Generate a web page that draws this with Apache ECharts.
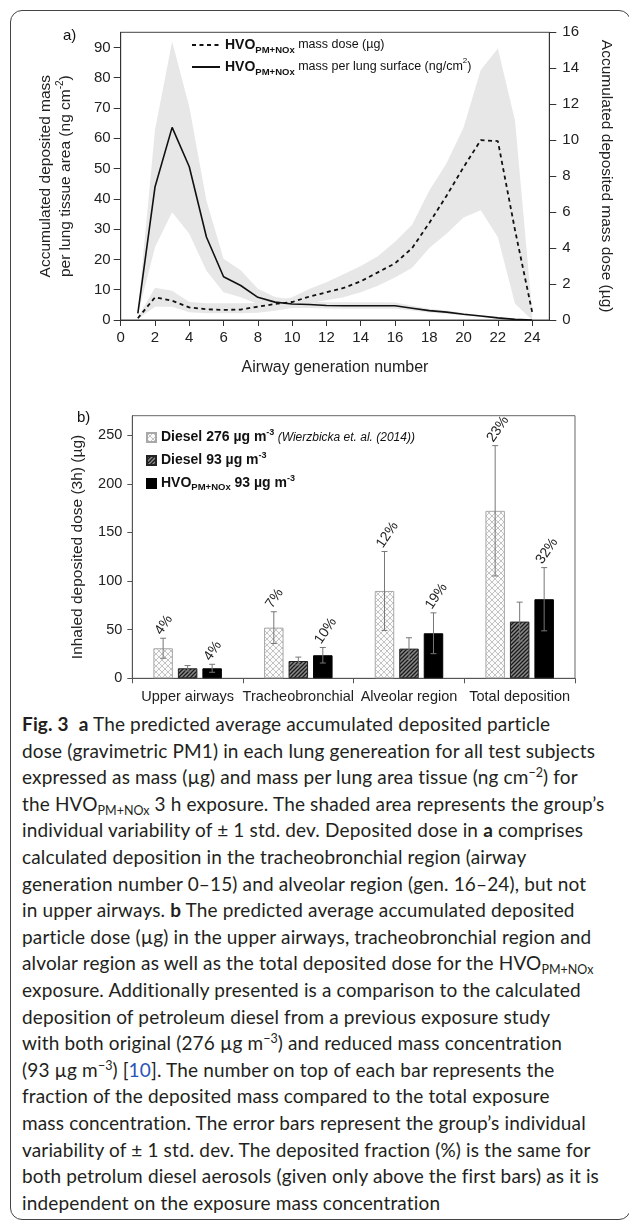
<!DOCTYPE html>
<html><head><meta charset="utf-8">
<script src="https://cdn.jsdelivr.net/npm/echarts@6/dist/echarts.min.js"></script>
<style>
html,body{margin:0;padding:0;background:#fff;width:629px;height:1223px;overflow:hidden;}
#frame{position:absolute;left:10px;top:10px;width:621px;height:1210px;border:1.3px solid #444;border-radius:12px;box-sizing:border-box;}
#chart{position:absolute;left:0;top:0;width:629px;height:708px;}
#caption{position:absolute;left:22px;top:711px;font-family:Lato,'Open Sans',sans-serif;font-size:19px;line-height:26.6px;color:#231f20;white-space:nowrap;letter-spacing:0.15px;}
#caption sub{font-size:12.5px;vertical-align:-4px;line-height:0;letter-spacing:0;}
#caption sup{font-size:12.5px;vertical-align:7px;line-height:0;letter-spacing:0;}
#caption .ref{color:#2a55b8;}
</style></head><body>
<div id="frame"></div>
<div id="chart"></div>
<div id="caption">
<div><b>Fig. 3</b>&nbsp; <b>a</b> The predicted average accumulated deposited particle</div>
<div>dose (gravimetric PM1) in each lung genereation for all test subjects</div>
<div>expressed as mass (µg) and mass per lung area tissue (ng cm<sup>−2</sup>) for</div>
<div>the HVO<sub>PM+NOx</sub> 3 h exposure. The shaded area represents the group’s</div>
<div>individual variability of ± 1 std. dev. Deposited dose in <b>a</b> comprises</div>
<div>calculated deposition in the tracheobronchial region (airway</div>
<div>generation number 0–15) and alveolar region (gen. 16–24), but not</div>
<div>in upper airways. <b>b</b> The predicted average accumulated deposited</div>
<div>particle dose (µg) in the upper airways, tracheobronchial region and</div>
<div>alvolar region as well as the total deposited dose for the HVO<sub>PM+NOx</sub></div>
<div>exposure. Additionally presented is a comparison to the calculated</div>
<div>deposition of petroleum diesel from a previous exposure study</div>
<div>with both original (276 µg m<sup>−3</sup>) and reduced mass concentration</div>
<div>(93 µg m<sup>−3</sup>) [<span class="ref">10</span>]. The number on top of each bar represents the</div>
<div>fraction of the deposited mass compared to the total exposure</div>
<div>mass concentration. The error bars represent the group’s individual</div>
<div>variability of ± 1 std. dev. The deposited fraction (%) is the same for</div>
<div>both petrolum diesel aerosols (given only above the first bars) as it is</div>
<div>independent on the exposure mass concentration</div>
</div>
<script>
// ---------- DATA: panel a ----------
const generations = [1,2,3,4,5,6,7,8,9,10,11,12,13,14,15,16,17,18,19,20,21,22,23,24];
const massSurface      = [2.2,43.9,63.6,50.6,27.4,14.3,11.4,7.5,5.9,5.3,5.1,4.8,4.7,4.7,4.7,4.7,3.9,3.1,2.6,1.9,1.3,0.7,0.2,0];
const massSurfaceUpper = [2.6,62.7,92.0,70.4,39.5,20.2,16.4,10.3,7.6,6.8,6.2,5.9,5.9,5.9,5.9,5.8,4.7,3.7,3.1,2.3,1.6,0.9,0.3,0.1];
const massSurfaceLower = [1.8,24.0,35.6,28.5,16.3,9.2,7.5,5.3,4.3,4.0,4.0,3.8,3.7,3.7,3.7,3.7,3.1,2.5,2.1,1.5,1.0,0.5,0.1,0];
const massDose      = [0.1,1.26,1.07,0.7,0.6,0.56,0.58,0.74,0.89,1.0,1.3,1.54,1.78,2.15,2.65,3.15,4.0,5.4,6.9,8.5,10.0,9.95,5.0,0.45];
const massDoseUpper = [0.15,1.8,1.63,1.0,0.93,0.93,0.93,0.95,1.05,1.26,1.72,2.1,2.55,3.0,3.55,4.35,5.3,7.2,8.7,10.7,13.9,15.1,11.1,0.45];
const massDoseLower = [0.05,0.74,0.74,0.43,0.37,0.37,0.37,0.4,0.52,0.67,0.93,1.1,1.26,1.54,1.9,2.37,2.9,4.0,4.8,5.7,6.1,4.6,0.9,0];
const xTicksA = [0,2,4,6,8,10,12,14,16,18,20,22,24];
const leftTicksA = [0,10,20,30,40,50,60,70,80,90];
const rightTicksA = [0,2,4,6,8,10,12,14,16];

// ---------- DATA: panel b ----------
const regions = ['Upper airways','Tracheobronchial','Alveolar region','Total deposition'];
const diesel276 = [30.9,52.1,89.8,172.2];
const diesel276Sd = [10.3,16.3,40.6,67.0];
const diesel276Pct = ['4%','7%','12%','23%'];
const diesel93 = [10.3,17.8,30.5,58.3];
const diesel93Sd = [2.8,4.0,11.2,20.0];
const hvo93 = [10.3,23.7,46.3,81.3];
const hvo93Sd = [4.1,8.0,21.0,32.5];
const hvo93Pct = ['4%','10%','19%','32%'];
const yTicksB = [0,50,100,150,200,250];

const FONT = "'Liberation Sans', Arial, sans-serif";
const AX = '#333';
const BAR_W = 19.5, BAR_SPACE = 5;

function latticePattern(){
  const c=document.createElement('canvas'); c.width=6; c.height=6;
  const g=c.getContext('2d'); g.fillStyle='#fbfbfb'; g.fillRect(0,0,6,6);
  g.strokeStyle='#bcbcbc'; g.lineWidth=0.9; g.beginPath();
  g.moveTo(0,0); g.lineTo(6,6); g.moveTo(6,0); g.lineTo(0,6); g.stroke();
  return c;
}
function hatchPattern(){
  const c=document.createElement('canvas'); c.width=4; c.height=4;
  const g=c.getContext('2d'); g.fillStyle='#8a8a8a'; g.fillRect(0,0,4,4);
  g.strokeStyle='#1a1a1a'; g.lineWidth=1.3; g.beginPath();
  g.moveTo(0,4); g.lineTo(4,0); g.moveTo(-1,1); g.lineTo(1,-1); g.moveTo(3,5); g.lineTo(5,3); g.stroke();
  return c;
}

function bandSeries(upper, lower, yIdx){
  return {
    type:'custom', xAxisIndex:0, yAxisIndex:yIdx, silent:true, z:1,
    data: generations.map((g,i)=>[g, lower[i], upper[i]]),
    renderItem(params, api){
      if(params.dataIndex!==0) return;
      const pts=[];
      for(let j=0;j<generations.length;j++) pts.push(api.coord([generations[j], upper[j]]));
      for(let j=generations.length-1;j>=0;j--) pts.push(api.coord([generations[j], lower[j]]));
      return {type:'polygon', shape:{points:pts}, style:{fill:'#e7e7e7', stroke:null}};
    }
  };
}

function errSeries(means, sds, pcts, k){
  return {
    type:'custom', xAxisIndex:1, yAxisIndex:2, silent:true, z:5,
    data: means.map((m,i)=>[i, m-sds[i], m+sds[i]]),
    renderItem(params, api){
      const i=api.value(0);
      const lo=api.coord([i, api.value(1)]), hi=api.coord([i, api.value(2)]);
      const x=lo[0]+(k-1)*(BAR_W+BAR_SPACE);
      const st={stroke:'#777', lineWidth:1};
      const ch=[
        {type:'line', shape:{x1:x,y1:lo[1],x2:x,y2:hi[1]}, style:st},
        {type:'line', shape:{x1:x-3,y1:hi[1],x2:x+3,y2:hi[1]}, style:st},
        {type:'line', shape:{x1:x-3,y1:lo[1],x2:x+3,y2:lo[1]}, style:st}
      ];
      if(pcts && pcts[i]) ch.push({type:'text', x:x-5, y:hi[1]-5, rotation:Math.PI*0.31,
        style:{text:pcts[i], fontSize:14, fontFamily:FONT, fill:'#222', align:'left', verticalAlign:'middle'}});
      return {type:'group', children:ch};
    }
  };
}

const chart = echarts.init(document.getElementById('chart'), null, {renderer:'canvas'});
const richA = {
  b:{fontSize:14, fontWeight:'bold', color:'#111', fontFamily:FONT, lineHeight:20},
  s:{fontSize:9.5, fontWeight:'bold', color:'#111', fontFamily:FONT, lineHeight:20, verticalAlign:'bottom'},
  n:{fontSize:12.5, color:'#111', fontFamily:FONT, lineHeight:20},
  sup:{fontSize:8, color:'#111', fontFamily:FONT, lineHeight:20, verticalAlign:'top'}
};
const richB = {
  b:{fontSize:14, fontWeight:'bold', color:'#111', fontFamily:FONT, lineHeight:18},
  sup:{fontSize:9, fontWeight:'bold', color:'#111', fontFamily:FONT, lineHeight:18, verticalAlign:'top'},
  s:{fontSize:9.5, fontWeight:'bold', color:'#111', fontFamily:FONT, lineHeight:18, verticalAlign:'bottom'},
  i:{fontSize:12, fontStyle:'italic', color:'#111', fontFamily:FONT, lineHeight:18}
};

const option = {
  animation:false,
  textStyle:{fontFamily:FONT},
  grid:[
    {left:120.7, top:32.3, width:428.6, height:287.7, show:true, borderColor:'#444', borderWidth:1, containLabel:false},
    {left:132.3, top:415.7, width:442.7, height:262.6, show:true, borderColor:'#666', borderWidth:1, containLabel:false}
  ],
  legend:[
    {data:['HVO mass dose','HVO mass per lung surface'], orient:'vertical', left:186, top:33, itemWidth:28, itemHeight:12, itemGap:2,
     selectedMode:false, textStyle:{rich:richA},
     itemStyle:{opacity:0},
     formatter:n=> n==='HVO mass dose' ? '{b|HVO}{s|PM+NOx}{n| mass dose (µg)}' : '{b|HVO}{s|PM+NOx}{n| mass per lung surface (ng/cm}{sup|2}{n|)}'},
    {data:['Diesel 276','Diesel 93','HVO 93'], orient:'vertical', left:141, top:423.5, itemWidth:9, itemHeight:9, itemGap:7,
     selectedMode:false, icon:'rect', textStyle:{rich:richB},
     formatter:n=> n==='Diesel 276' ? '{b|Diesel 276 µg m}{sup|-3}{i| (Wierzbicka et. al. (2014))}' :
                  n==='Diesel 93' ? '{b|Diesel 93 µg m}{sup|-3}' : '{b|HVO}{s|PM+NOx}{b| 93 µg m}{sup|-3}'}
  ],
  xAxis:[
    {gridIndex:0, type:'value', min:0, max:25,
     axisLine:{onZero:false, lineStyle:{color:AX}},
     axisTick:{customValues:xTicksA, length:6, lineStyle:{color:AX}},
     axisLabel:{customValues:xTicksA, fontSize:15, color:'#222', margin:10},
     splitLine:{show:false},
     name:'Airway generation number', nameLocation:'middle', nameGap:40, nameTextStyle:{fontSize:16, color:'#222'}},
    {gridIndex:1, type:'category', data:regions,
     axisLine:{onZero:false, lineStyle:{color:'#555'}},
     axisTick:{show:true, length:5, interval:0, lineStyle:{color:'#555'}},
     axisLabel:{fontSize:14.5, color:'#222', margin:11, interval:0}}
  ],
  yAxis:[
    {gridIndex:0, type:'value', min:0, max:95,
     axisLine:{show:true, onZero:false, lineStyle:{color:AX}},
     axisTick:{show:true, customValues:leftTicksA, length:7, lineStyle:{color:AX}},
     axisLabel:{customValues:leftTicksA, fontSize:15, color:'#222', margin:10},
     splitLine:{show:false},
     name:'Accumulated deposited mass\nper lung tissue area (ng cm{sup|-2})', nameLocation:'middle', nameRotate:90, nameGap:45,
     nameTextStyle:{fontSize:15.5, color:'#222', lineHeight:20, rich:{sup:{fontSize:10, verticalAlign:'top', color:'#222', lineHeight:20}}}},
    {gridIndex:0, type:'value', min:0, max:16, interval:2, position:'right',
     axisLine:{show:true, onZero:false, lineStyle:{color:AX}},
     axisTick:{show:true, length:7, lineStyle:{color:AX}},
     axisLabel:{fontSize:15, color:'#222', margin:13},
     splitLine:{show:false},
     name:'Accumulated deposited mass dose (µg)', nameLocation:'middle', nameRotate:-90, nameGap:49,
     nameTextStyle:{fontSize:15.5, color:'#222'}},
    {gridIndex:1, type:'value', min:0, max:270,
     axisLine:{show:true, onZero:false, lineStyle:{color:'#555'}},
     axisTick:{show:true, customValues:yTicksB, length:5, lineStyle:{color:'#555'}},
     axisLabel:{customValues:yTicksB, fontSize:14.5, color:'#222', margin:10},
     splitLine:{show:false},
     name:'Inhaled deposited dose (3h) (µg)', nameLocation:'middle', nameRotate:90, nameGap:47,
     nameTextStyle:{fontSize:15.5, color:'#222'}}
  ],
  graphic:[
    {type:'text', x:63, y:36, style:{text:'a)', fontSize:15, fontFamily:FONT, fill:'#111', verticalAlign:'middle'}},
    {type:'text', x:77, y:418, style:{text:'b)', fontSize:15, fontFamily:FONT, fill:'#111', verticalAlign:'middle'}}
  ],
  series:[
    bandSeries(massSurfaceUpper, massSurfaceLower, 0),
    bandSeries(massDoseUpper, massDoseLower, 1),
    {name:'HVO mass dose', type:'line', xAxisIndex:0, yAxisIndex:1, symbol:'none', z:3,
     data:generations.map((g,i)=>[g, massDose[i]]),
     lineStyle:{color:'#111', width:1.8, type:[4,3.5]}, itemStyle:{color:'#111'}},
    {name:'HVO mass per lung surface', type:'line', xAxisIndex:0, yAxisIndex:0, symbol:'none', z:3,
     data:generations.map((g,i)=>[g, massSurface[i]]),
     lineStyle:{color:'#111', width:1.6}, itemStyle:{color:'#111'}},
    {name:'Diesel 276', type:'bar', xAxisIndex:1, yAxisIndex:2, data:diesel276, barWidth:BAR_W, barGap:(BAR_SPACE/BAR_W*100)+'%',
     itemStyle:{color:{image:latticePattern(), repeat:'repeat'}, borderColor:'#a8a8a8', borderWidth:1}},
    {name:'Diesel 93', type:'bar', xAxisIndex:1, yAxisIndex:2, data:diesel93, barWidth:BAR_W, barGap:(BAR_SPACE/BAR_W*100)+'%',
     itemStyle:{color:{image:hatchPattern(), repeat:'repeat'}, borderColor:'#222', borderWidth:1}},
    {name:'HVO 93', type:'bar', xAxisIndex:1, yAxisIndex:2, data:hvo93, barWidth:BAR_W, barGap:(BAR_SPACE/BAR_W*100)+'%',
     itemStyle:{color:'#000', borderColor:'#000', borderWidth:1}},
    errSeries(diesel276, diesel276Sd, diesel276Pct, 0),
    errSeries(diesel93, diesel93Sd, null, 1),
    errSeries(hvo93, hvo93Sd, hvo93Pct, 2)
  ]
};
chart.setOption(option);
</script>
</body></html>
